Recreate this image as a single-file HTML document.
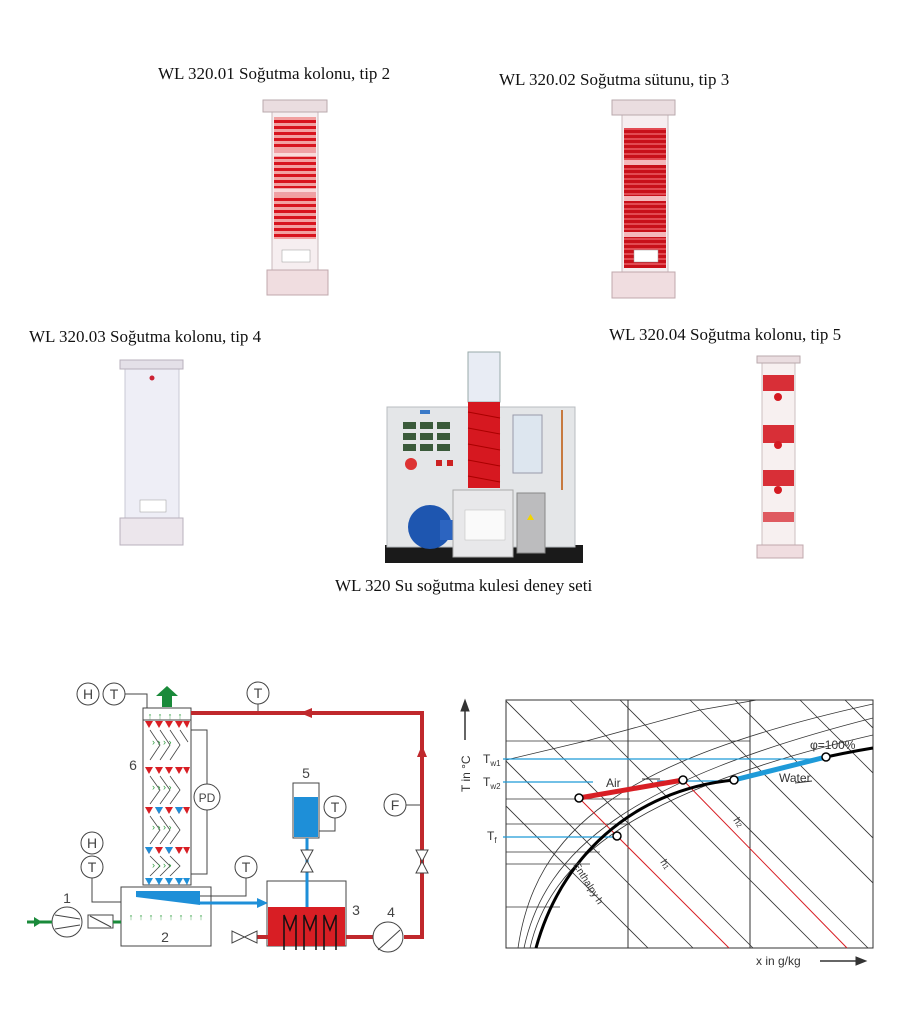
<!DOCTYPE html>
<html><head><meta charset="utf-8"><style>
html,body{margin:0;padding:0;background:#fff}
.c{position:absolute;font-family:"Liberation Serif",serif;font-size:17px;color:#111;white-space:nowrap}
</style></head><body>
<div style="position:relative;width:920px;height:1024px;overflow:hidden">
<div class="c" style="left:158px;top:64px">WL 320.01 Soğutma kolonu, tip 2</div>
<div class="c" style="left:499px;top:70px">WL 320.02 Soğutma sütunu, tip 3</div>
<div class="c" style="left:29px;top:327px">WL 320.03 Soğutma kolonu, tip 4</div>
<div class="c" style="left:609px;top:325px">WL 320.04 Soğutma kolonu, tip 5</div>
<div class="c" style="left:335px;top:576px">WL 320 Su soğutma kulesi deney seti</div>
<svg width="920" height="1024" style="position:absolute;left:0;top:0" font-family="Liberation Sans, sans-serif">
<defs>
<pattern id="rs" width="8" height="6" patternUnits="userSpaceOnUse"><rect width="8" height="6" fill="#f2a0a0"/><rect width="8" height="3" fill="#d8141e"/></pattern>
<pattern id="rs2" width="6" height="5" patternUnits="userSpaceOnUse"><rect width="6" height="5" fill="#e24a52"/><rect width="6" height="3" fill="#c8101a"/></pattern>
</defs>
<!-- Column 1 -->
<rect x="272" y="112" width="46" height="160" fill="#f6eef0" stroke="#c9b9bd"/>
<rect x="274" y="117" width="42" height="122" fill="url(#rs)"/>
<rect x="274" y="150" width="42" height="7" fill="#fff" opacity=".6"/>
<rect x="274" y="188" width="42" height="7" fill="#fff" opacity=".6"/>
<rect x="282" y="250" width="28" height="12" fill="#fff" stroke="#999" stroke-width=".5"/>
<rect x="263" y="100" width="64" height="12" fill="#eadde0" stroke="#b9a9ad"/>
<rect x="267" y="270" width="61" height="25" fill="#f0dde0" stroke="#c0a8ad"/>
<!-- Column 2 -->
<rect x="622" y="115" width="46" height="158" fill="#f6eef0" stroke="#c9b9bd"/>
<rect x="624" y="128" width="42" height="140" fill="url(#rs2)"/>
<rect x="624" y="160" width="42" height="5" fill="#f4b8bb"/>
<rect x="624" y="196" width="42" height="5" fill="#f4b8bb"/>
<rect x="624" y="232" width="42" height="5" fill="#f4b8bb"/>
<rect x="634" y="250" width="24" height="12" fill="#fff" stroke="#999" stroke-width=".5"/>
<rect x="612" y="100" width="63" height="15" fill="#eadde0" stroke="#b9a9ad"/>
<rect x="612" y="272" width="63" height="26" fill="#f0dde0" stroke="#c0a8ad"/>
<!-- Column 3 -->
<rect x="125" y="368" width="54" height="160" fill="#eeeef6" stroke="#c8c8d4"/>
<rect x="120" y="360" width="63" height="9" fill="#e4e0e8" stroke="#b8b0bc"/>
<rect x="120" y="518" width="63" height="27" fill="#ece6ec" stroke="#b8b0bc"/>
<circle cx="152" cy="378" r="2.5" fill="#c23"/>
<rect x="140" y="500" width="26" height="12" fill="#fff" stroke="#999" stroke-width=".5"/>
<!-- Column 4 -->
<rect x="762" y="363" width="33" height="185" fill="#f7f0f0" stroke="#ccbfc0"/>
<g fill="#d41a22">
<rect x="763" y="375" width="31" height="16" opacity=".9"/><rect x="763" y="425" width="31" height="18" opacity=".9"/><rect x="763" y="470" width="31" height="16" opacity=".9"/><rect x="763" y="512" width="31" height="10" opacity=".7"/>
<circle cx="778" cy="397" r="4"/><circle cx="778" cy="445" r="4"/><circle cx="778" cy="490" r="4"/>
</g>
<rect x="757" y="356" width="43" height="7" fill="#eadde0" stroke="#b9a9ad"/>
<rect x="757" y="545" width="46" height="13" fill="#f0dde0" stroke="#c0a8ad"/>
<!-- Main unit -->
<rect x="385" y="545" width="198" height="18" fill="#1a1a1a"/>
<rect x="387" y="407" width="188" height="140" fill="#e4e6e8" stroke="#b8bcc0"/>
<g fill="#3a5a3a"><rect x="403" y="422" width="13" height="7"/><rect x="420" y="422" width="13" height="7"/><rect x="437" y="422" width="13" height="7"/>
<rect x="403" y="433" width="13" height="7"/><rect x="420" y="433" width="13" height="7"/><rect x="437" y="433" width="13" height="7"/>
<rect x="403" y="444" width="13" height="7"/><rect x="420" y="444" width="13" height="7"/><rect x="437" y="444" width="13" height="7"/></g>
<rect x="420" y="410" width="10" height="4" fill="#3a7ac8"/>
<circle cx="411" cy="464" r="6" fill="#d33"/><rect x="436" y="460" width="6" height="6" fill="#c22"/><rect x="447" y="460" width="6" height="6" fill="#c22"/>
<circle cx="430" cy="527" r="22" fill="#1e56b0"/><rect x="440" y="520" width="18" height="20" fill="#2c64c0"/>
<rect x="468" y="352" width="32" height="50" fill="#e8ecf4" stroke="#9aa"/>
<rect x="468" y="402" width="32" height="86" fill="#d61820"/>
<g stroke="#a00" stroke-width="1"><line x1="468" y1="412" x2="500" y2="418"/><line x1="468" y1="428" x2="500" y2="434"/><line x1="468" y1="444" x2="500" y2="450"/><line x1="468" y1="460" x2="500" y2="466"/><line x1="468" y1="476" x2="500" y2="482"/></g>
<rect x="453" y="490" width="60" height="67" fill="#e8e8ea" stroke="#aaa"/>
<rect x="465" y="510" width="40" height="30" fill="#fafafa" stroke="#bbb" stroke-width=".5"/>
<rect x="513" y="415" width="29" height="58" fill="#dde6ef" stroke="#99a"/>
<rect x="517" y="493" width="28" height="60" fill="#bcbcbe" stroke="#888"/>
<polygon points="527,520 534,520 530.5,514" fill="#f3d500"/>
<line x1="562" y1="410" x2="562" y2="490" stroke="#c77a40" stroke-width="2"/>
<!-- Left diagram -->
<g fill="none" stroke="#444" stroke-width="1">
<circle cx="88" cy="694" r="11" fill="#fff"/><circle cx="114" cy="694" r="11" fill="#fff"/>
<polyline points="125,694 147,694 147,708"/>
<rect x="143" y="708" width="48" height="177" fill="#fff"/>
<line x1="143" y1="720" x2="191" y2="720"/>
<polyline points="191,730 207,730 207,784"/><polyline points="207,810 207,874 191,874"/>
<circle cx="207" cy="797" r="13" fill="#fff"/>
<circle cx="92" cy="843" r="11" fill="#fff"/><circle cx="92" cy="867" r="11" fill="#fff"/>
<polyline points="92,878 92,902 121,902"/>
<rect x="121" y="887" width="90" height="59" fill="#fff"/>
<circle cx="246" cy="867" r="11" fill="#fff"/><polyline points="246,878 246,896 200,896"/>
<circle cx="258" cy="693" r="11" fill="#fff"/><line x1="258" y1="704" x2="258" y2="713"/>
<circle cx="395" cy="805" r="11" fill="#fff"/><line x1="406" y1="805" x2="422" y2="805"/>
<circle cx="335" cy="807" r="11" fill="#fff"/><polyline points="335,818 335,831 319,831"/>
<rect x="293" y="783" width="26" height="55" fill="#fff"/>
<rect x="267" y="881" width="79" height="65" fill="#fff"/>
</g>
<rect x="294" y="797" width="24" height="40" fill="#1e8fd8"/>
<line x1="307" y1="838" x2="307" y2="907" stroke="#1e8fd8" stroke-width="3"/>
<polygon points="136,891 200,891 200,905 136,897" fill="#1e8fd8"/>
<line x1="200" y1="903" x2="260" y2="903" stroke="#1e8fd8" stroke-width="3"/>
<polygon points="268,903 257,898 257,908" fill="#1e8fd8"/>
<rect x="268" y="907" width="77" height="39" fill="#d81e24"/>
<g stroke="#111" stroke-width="1.5" fill="none">
<polyline points="284,950 284,915 290,930 296,915 296,950"/><polyline points="304,950 304,915 310,930 316,915 316,950"/><polyline points="324,950 324,915 330,930 336,915 336,950"/></g>
<g stroke="#c0282c" stroke-width="4" fill="none"><polyline points="191,713 422,713 422,937 404,937"/><line x1="346" y1="937" x2="373" y2="937"/><line x1="257" y1="937" x2="268" y2="937"/></g>
<polygon points="300,713 312,708 312,718" fill="#c0282c"/><polygon points="422,745 417,757 427,757" fill="#c0282c"/>
<g stroke="#444" fill="#fff"><polygon points="416,850 428,850 416,873 428,873"/><polygon points="301,850 313,850 301,872 313,872"/><polygon points="232,931 232,943 257,931 257,943"/>
<circle cx="388" cy="937" r="15"/><circle cx="67" cy="922" r="15"/><rect x="88" y="915" width="25" height="13"/></g>
<g stroke="#444" fill="none"><line x1="55" y1="915" x2="80" y2="919"/><line x1="55" y1="929" x2="80" y2="925"/><line x1="378" y1="950" x2="400" y2="930"/><line x1="90" y1="916" x2="111" y2="927"/></g>
<line x1="27" y1="922" x2="52" y2="922" stroke="#1a8a3a" stroke-width="3"/><polygon points="34,917 42,922 34,927" fill="#1a8a3a"/>
<line x1="113" y1="922" x2="121" y2="922" stroke="#1a8a3a" stroke-width="3"/>
<polygon points="162,707 162,696 156,696 167,686 178,696 172,696 172,707" fill="#1a8a3a"/>
<g fill="#2a9a3a" font-size="9" text-anchor="middle"><text x="131" y="920">↑</text><text x="141" y="920">↑</text><text x="151" y="920">↑</text><text x="161" y="920">↑</text><text x="171" y="920">↑</text><text x="181" y="920">↑</text><text x="191" y="920">↑</text><text x="201" y="920">↑</text>
<text x="150" y="719">↑</text><text x="160" y="719">↑</text><text x="170" y="719">↑</text><text x="180" y="719">↑</text></g>
<g id="tri"><polygon points="145,721 153,721 149,728" fill="#d81e24"/><polygon points="155,721 163,721 159,728" fill="#d81e24"/><polygon points="165,721 173,721 169,728" fill="#d81e24"/><polygon points="175,721 183,721 179,728" fill="#d81e24"/><polygon points="183,721 190,721 187,728" fill="#d81e24"/></g>
<use href="#tri" y="46"/><use href="#tri" y="86"/><use href="#tri" y="126"/>
<g fill="#1e8fd8"><polygon points="145,878 153,878 149,885"/><polygon points="155,878 163,878 159,885"/><polygon points="165,878 173,878 169,885"/><polygon points="175,878 183,878 179,885"/><polygon points="183,878 190,878 187,885"/>
<polygon points="155,807 163,807 159,814"/><polygon points="175,807 183,807 179,814"/><polygon points="145,847 153,847 149,854"/><polygon points="165,847 173,847 169,854"/></g>
<g stroke="#444" stroke-width=".8" fill="none">
<path d="M150,730 l10,15 l-10,15 M160,730 l10,15 l-10,15 M170,730 l10,15 l-10,15 M180,730 l8,12"/>
<path d="M150,776 l10,14 l-10,14 M160,776 l10,14 l-10,14 M170,776 l10,14 l-10,14"/>
<path d="M150,816 l10,14 l-10,14 M160,816 l10,14 l-10,14 M170,816 l10,14 l-10,14"/>
<path d="M150,856 l10,10 l-10,10 M160,856 l10,10 l-10,10 M170,856 l10,10 l-10,10"/></g>
<g fill="#2a9a3a" font-size="9"><text x="152" y="745">› › › ›</text><text x="152" y="790">› › › ›</text><text x="152" y="830">› › › ›</text><text x="152" y="868">› › › ›</text></g>
<g fill="#444" font-size="14" text-anchor="middle"><text x="88" y="699">H</text><text x="114" y="699">T</text><text x="258" y="698">T</text><text x="395" y="810">F</text><text x="335" y="812">T</text><text x="246" y="872">T</text><text x="92" y="848">H</text><text x="92" y="872">T</text><text x="207" y="802" font-size="12">PD</text>
<text x="133" y="770">6</text><text x="306" y="778">5</text><text x="356" y="915">3</text><text x="391" y="917">4</text><text x="67" y="903">1</text><text x="165" y="942">2</text></g>
<!-- Chart -->
<clipPath id="cf"><rect x="506" y="700" width="367" height="248"/></clipPath>
<g clip-path="url(#cf)" stroke="#333" stroke-width=".8" fill="none">
<line x1="445" y1="700" x2="693" y2="948"/><line x1="505" y1="700" x2="753" y2="948"/><line x1="570" y1="700" x2="818" y2="948"/><line x1="620" y1="700" x2="868" y2="948"/><line x1="690" y1="700" x2="938" y2="948"/><line x1="735" y1="700" x2="983" y2="948"/><line x1="800" y1="700" x2="1048" y2="948"/><line x1="845" y1="700" x2="1093" y2="948"/><line x1="400" y1="700" x2="648" y2="948"/>
<line x1="506" y1="741" x2="750" y2="741"/><line x1="506" y1="799" x2="630" y2="799"/><line x1="506" y1="824" x2="630" y2="824"/><line x1="506" y1="864" x2="590" y2="864"/><line x1="506" y1="907" x2="560" y2="907"/><line x1="506" y1="852" x2="600" y2="852"/>
<path d="M518,948 C535,830 620,760 873,704"/><path d="M524,948 C545,850 630,780 873,718"/><path d="M530,948 C550,860 635,790 873,735"/>
<path d="M506,760 L590,740 L700,710 L870,680"/>
</g>
<rect x="506" y="700" width="367" height="248" fill="none" stroke="#333"/>
<line x1="628" y1="700" x2="628" y2="948" stroke="#333"/><line x1="750" y1="700" x2="750" y2="948" stroke="#333"/>
<g stroke="#1e9ad8" stroke-width="1.2"><line x1="503" y1="759" x2="826" y2="759"/><line x1="503" y1="782" x2="593" y2="782"/><line x1="657" y1="781" x2="734" y2="781"/><line x1="503" y1="837" x2="617" y2="837"/></g>
<g stroke="#d81e24" stroke-width="1"><line x1="579" y1="798" x2="729" y2="948"/><line x1="683" y1="780" x2="847" y2="948"/></g>
<path d="M536,948 C560,860 630,790 734,780 C790,765 830,755 873,748" stroke="#000" stroke-width="3" fill="none"/>
<line x1="579" y1="798" x2="683" y2="780" stroke="#d81e24" stroke-width="5"/>
<line x1="734" y1="780" x2="826" y2="757" stroke="#1e9ad8" stroke-width="5"/>
<g fill="#fff" stroke="#000" stroke-width="1.5"><circle cx="579" cy="798" r="4"/><circle cx="683" cy="780" r="4"/><circle cx="734" cy="780" r="4"/><circle cx="826" cy="757" r="4"/><circle cx="617" cy="836" r="4"/></g>
<g fill="#333" font-size="12"><text x="606" y="787">Air</text><text x="779" y="782">Water</text><text x="810" y="749">φ=100%</text>
<text x="483" y="763">T<tspan font-size="8" dy="3">w1</tspan></text><text x="483" y="786">T<tspan font-size="8" dy="3">w2</tspan></text><text x="487" y="840">T<tspan font-size="8" dy="3">f</tspan></text>
<text x="756" y="965">x in g/kg</text>
<text transform="translate(470,792) rotate(-90)">T in °C</text>
<text transform="translate(573,865) rotate(58)" font-size="10">Enthalpy h</text>
<text transform="translate(660,862) rotate(58)" font-size="10">h<tspan font-size="7">1</tspan></text>
<text transform="translate(733,820) rotate(58)" font-size="10">h<tspan font-size="7">2</tspan></text></g>
<g stroke="#333" fill="#333"><line x1="812" y1="781" x2="795" y2="783"/><line x1="642" y1="779" x2="660" y2="779"/><line x1="820" y1="961" x2="858" y2="961" stroke-width="1.5"/><polygon points="866,961 856,957 856,965"/><line x1="465" y1="740" x2="465" y2="710" stroke-width="1.5"/><polygon points="465,700 461,711 469,711"/></g>
</svg>
</div>
</body></html>
